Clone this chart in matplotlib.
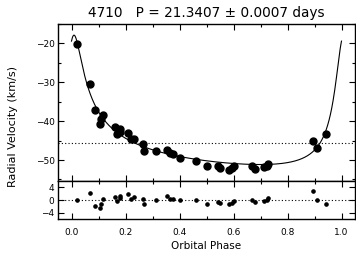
import numpy as np
import matplotlib
matplotlib.use('Agg')
import matplotlib.pyplot as plt
from matplotlib.ticker import MultipleLocator

# measured radial velocities
phase = [0.022, 0.069, 0.087, 0.107, 0.110, 0.115, 0.162, 0.169, 0.178, 0.181,
         0.210, 0.219, 0.233, 0.265, 0.268, 0.314, 0.353, 0.363, 0.375, 0.403,
         0.461, 0.502, 0.542, 0.550, 0.582, 0.593, 0.602, 0.668, 0.678, 0.714,
         0.725, 0.728, 0.895, 0.911, 0.941]
rv = [-20.1, -30.4, -37.2, -40.8, -39.5, -38.4, -41.4, -43.2, -41.9, -42.7,
      -43.1, -44.5, -44.5, -45.9, -47.7, -47.7, -47.5, -48.2, -48.5, -49.4,
      -50.3, -51.5, -51.5, -52.1, -52.6, -52.1, -51.6, -51.5, -52.3, -51.8,
      -51.6, -51.1, -45.0, -46.9, -43.3]
# O - C
resid = [0.0, 2.1, -1.9, -2.6, -1.3, 0.5, 0.9, -0.4, 1.25, 0.6,
         1.8, 0.4, 0.9, 0.5, -1.2, 0.2, 1.2, 0.5, 0.4, 0.1,
         -0.1, -1.1, -0.5, -1.0, -1.3, -0.8, -0.2, 0.1, -0.7, -0.2,
         0.2, 0.7, 3.0, -0.1, -1.1]

curve_phase = [0.0, 0.005, 0.8, 0.903, 0.941, 0.964, 0.989, 1.0]
curve_rv = [-19.3, -18.4, -50.6, -46.3, -42.9, -37.0, -24.2, -19.5]

gamma = -45.5   # systemic velocity (dotted line)


def true_anomaly(ph, e, tp):
    M = 2 * np.pi * (np.asarray(ph) - tp)
    E = M + e * np.sin(M)
    for i in range(60):
        E = E - (E - e * np.sin(E) - M) / (1 - e * np.cos(E))
    return 2 * np.arctan2(np.sqrt(1 + e) * np.sin(E / 2), np.sqrt(1 - e) * np.cos(E / 2))


# Keplerian orbit through the model values: grid in e, T0, linear in the rest
ph = np.concatenate([phase, curve_phase])
v_model = np.concatenate([np.array(rv) - np.array(resid), curve_rv])
wt = np.concatenate([np.ones(len(phase)), 3 * np.ones(len(curve_phase))])
best = (np.inf, None)
for e in np.arange(0.30, 0.90, 0.005):
    for tp in np.arange(-0.15, 0.15, 0.002):
        nu = true_anomaly(ph, e, tp)
        X = np.column_stack([np.ones_like(nu), np.cos(nu), np.sin(nu)])
        coef = np.linalg.lstsq(X * wt[:, None], v_model * wt, rcond=None)[0]
        chi = np.sum(((X @ coef - v_model) * wt) ** 2)
        if chi < best[0]:
            best = (chi, (e, tp, coef))

e, tp, coef = best[1]
ph_fit = np.linspace(0, 1, 1000)
nu_fit = true_anomaly(ph_fit, e, tp)
rv_fit = coef[0] + coef[1] * np.cos(nu_fit) + coef[2] * np.sin(nu_fit)

fig = plt.figure(figsize=(3.56, 2.57), dpi=100)
W, H = 356.0, 257.0
ax = fig.add_axes([58 / W, 1 - 181 / H, 297 / W, 157 / H])
axr = fig.add_axes([58 / W, 1 - 219.3 / H, 297 / W, 38.3 / H])

ax.plot(ph_fit, rv_fit, color='k', lw=0.8)
ax.plot(phase, rv, 'o', color='k', ms=5, mec='k')
ax.axhline(gamma, color='k', ls=(0, (1, 2)), lw=0.8)
ax.set_xlim(-0.05, 1.05)
ax.set_ylim(-55.4, -15)
ax.xaxis.set_major_locator(MultipleLocator(0.2))
ax.xaxis.set_minor_locator(MultipleLocator(0.1))
ax.yaxis.set_major_locator(MultipleLocator(10))
ax.yaxis.set_minor_locator(MultipleLocator(5))
ax.tick_params(labelbottom=False)
ax.set_ylabel('Radial Velocity (km/s)', fontsize=8)

axr.plot(phase, resid, 'o', color='k', ms=2.3)
axr.axhline(0, color='k', ls=(0, (1, 2)), lw=0.8)
axr.set_xlim(-0.05, 1.05)
axr.set_ylim(-6, 6)
axr.xaxis.set_major_locator(MultipleLocator(0.2))
axr.xaxis.set_minor_locator(MultipleLocator(0.1))
axr.set_yticks([-4, 0, 4])
axr.set_xlabel('Orbital Phase', fontsize=7.5, labelpad=3)

for a in (ax, axr):
    a.tick_params(which='both', direction='in', top=True, right=True, labelsize=6.5)
    a.tick_params(which='major', length=4, width=0.8)
    a.tick_params(which='minor', length=2.5, width=0.8)
    a.tick_params(axis='y', pad=2.5)
    a.tick_params(axis='x', pad=6)
    for s in a.spines.values():
        s.set_linewidth(1)

fig.text(206 / W, 1 - 13 / H, '4710   P = 21.3407 \u00b1 0.0007 days',
         ha='center', va='center', fontsize=9.8)
ax.yaxis.set_label_coords(-0.136, 0.347)

fig.savefig('out.png', dpi=100)
